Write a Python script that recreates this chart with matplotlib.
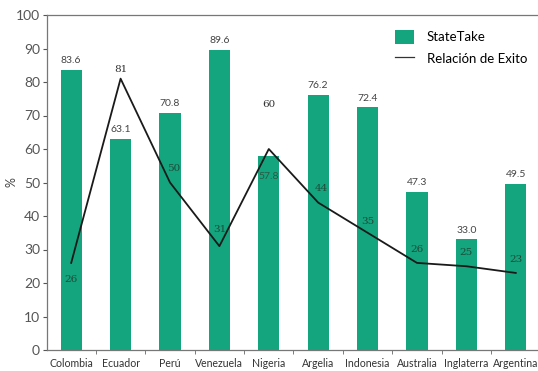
import matplotlib.pyplot as plt
import numpy as np

countries = ['Colombia', 'Ecuador', 'Perú', 'Venezuela', 'Nigeria', 'Argelia',
             'Indonesia', 'Australia', 'Inglaterra', 'Argentina']
state_take = [83.6, 63.1, 70.8, 89.6, 57.8, 76.2, 72.4, 47.3, 33.0, 49.5]
exito = [26, 81, 50, 31, 60, 44, 35, 26, 25, 23]

green = '#14a57e'
plt.rcParams['font.family'] = ['Lato', 'DejaVu Sans']

fig = plt.figure(figsize=(5.38, 3.71), dpi=100)
ax = fig.add_axes([47 / 538, 21 / 371, 1 - 47 / 538, 335 / 371])

x = np.arange(len(countries))
bars = ax.bar(x, state_take, width=0.43, color=green, label='StateTake', zorder=2)
line, = ax.plot(x, exito, color='#1a1a1a', lw=1.3, label='Relación de Exito', zorder=3)

# bar value labels
for xi, v in zip(x, state_take):
    if v == 57.8:
        ax.annotate(f'{v:.1f}', (xi, v), xytext=(0, -16), textcoords='offset points',
                    ha='center', fontsize=7.5, color='#2b5a45', zorder=4)
    else:
        ax.annotate(f'{v:.1f}', (xi, v), xytext=(0, 5), textcoords='offset points',
                    ha='center', fontsize=7.5, color='#444444', zorder=4)

# line value labels
offsets = {0: (0, -14), 1: (0, 5), 2: (3, 8), 3: (0, 10), 4: (0, 30),
           5: (2, 8), 6: (0, 6), 7: (0, 8), 8: (0, 8), 9: (0, 8)}
for i, (xi, v) in enumerate(zip(x, exito)):
    dx, dy = offsets[i]
    col = '#333333' if i in (1, 4) else '#1e4a38'
    ax.annotate(str(v), (xi, v), xytext=(dx, dy), textcoords='offset points',
                ha='center', fontsize=7.5, color=col, family='serif', zorder=4)

ax.set_xlim(-0.49, 9.45)
ax.set_ylim(0, 100)
ax.set_yticks(range(0, 101, 10))
ax.set_xticks(x)
ax.set_xticklabels(countries, fontsize=7.6, color='#333333')
ax.tick_params(axis='x', length=0, pad=6)
ax.set_xticks(x[:-1] + 0.5, minor=True)
ax.tick_params(axis='x', which='minor', length=3, color='#666666')
ax.tick_params(axis='y', labelsize=10, colors='#555555', length=3, pad=2)
ax.set_ylabel('%', fontsize=9, color='#444444')
ax.yaxis.set_label_coords(-0.06, 0.5)

ax.spines['right'].set_visible(False)
for s in ['left', 'bottom', 'top']:
    ax.spines[s].set_color('#777777')
    ax.spines[s].set_linewidth(0.9)

leg_line = plt.Line2D([], [], color='#333333', lw=0.9)
ax.legend([bars, leg_line], ['StateTake', 'Relación de Exito'], loc='upper left',
          bbox_to_anchor=(0.685, 0.99), frameon=False, fontsize=9.5,
          handlelength=1.4, handleheight=1.2, labelspacing=0.6, handletextpad=1.0)

fig.savefig('out.png', dpi=100)
